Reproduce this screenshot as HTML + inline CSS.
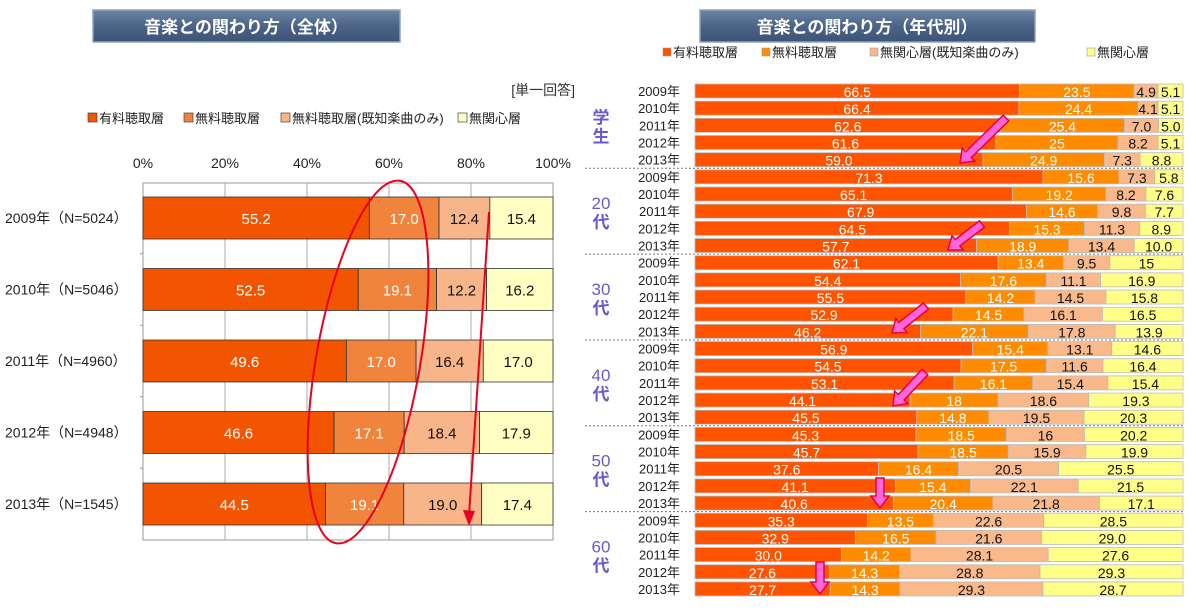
<!DOCTYPE html>
<html><head><meta charset="utf-8">
<style>
body{margin:0;background:#fff;}
svg{display:block;font-family:"Liberation Sans","Noto Sans CJK JP",sans-serif;}
</style></head>
<body>
<svg id="root" width="1196" height="614" viewBox="0 0 1196 614" xmlns="http://www.w3.org/2000/svg">
<defs>
<linearGradient id="tg" x1="0" y1="0" x2="0" y2="1">
<stop offset="0" stop-color="#6d86a6"/><stop offset="0.5" stop-color="#4b6488"/><stop offset="1" stop-color="#3c5478"/>
</linearGradient>
</defs>
<g>
<rect x="93" y="10" width="307" height="32" fill="url(#tg)" stroke="#8fa3bd" stroke-width="1.5"/>
<text x="246" y="33" text-anchor="middle" font-size="17" fill="#fff" font-weight="bold">音楽との関わり方（全体）</text>
</g>
<g>
<rect x="700" y="10" width="335" height="32" fill="url(#tg)" stroke="#8fa3bd" stroke-width="1.5"/>
<text x="867" y="33" text-anchor="middle" font-size="17" fill="#fff" font-weight="bold">音楽との関わり方（年代別）</text>
</g>
<text x="575" y="95" text-anchor="end" font-size="14" fill="#333">[単一回答]</text>
<g id="left"></g>
<g id="right"></g>
<g id="ann"></g>
</svg>
<script>
const NS="http://www.w3.org/2000/svg";
function mk(p,t,a){const e=document.createElementNS(NS,t);for(const k in a)e.setAttribute(k,a[k]);p.appendChild(e);return e;}

// ---- Left chart data ----
const leftCats=["2009年（N=5024）","2010年（N=5046）","2011年（N=4960）","2012年（N=4948）","2013年（N=1545）"];
const leftPaid=[55.2,52.5,49.6,46.6,44.5];
const leftFree=[17.0,19.1,17.0,17.1,19.1];
const leftFreeKnown=[12.4,12.2,16.4,18.4,19.0];
const leftNone=[15.4,16.2,17.0,17.9,17.4];
const leftTicks=["0%","20%","40%","60%","80%","100%"];
const leftSeriesNames=["有料聴取層","無料聴取層","無料聴取層(既知楽曲のみ)","無関心層"];

// ---- Right chart data ----
const groups=["学生","20代","30代","40代","50代","60代"];
const years=["2009年","2010年","2011年","2012年","2013年"];
const rPaid=["66.5","66.4","62.6","61.6","59.0","71.3","65.1","67.9","64.5","57.7","62.1","54.4","55.5","52.9","46.2","56.9","54.5","53.1","44.1","45.5","45.3","45.7","37.6","41.1","40.6","35.3","32.9","30.0","27.6","27.7"];
const rFree=["23.5","24.4","25.4","25","24.9","15.6","19.2","14.6","15.3","18.9","13.4","17.6","14.2","14.5","22.1","15.4","17.5","16.1","18","14.8","18.5","18.5","16.4","15.4","20.4","13.5","16.5","14.2","14.3","14.3"];
const rKnown=["4.9","4.1","7.0","8.2","7.3","7.3","8.2","9.8","11.3","13.4","9.5","11.1","14.5","16.1","17.8","13.1","11.6","15.4","18.6","19.5","16","15.9","20.5","22.1","21.8","22.6","21.6","28.1","28.8","29.3"];
const rNone=["5.1","5.1","5.0","5.1","8.8","5.8","7.6","7.7","8.9","10.0","15","16.9","15.8","16.5","13.9","14.6","16.4","15.4","19.3","20.3","20.2","19.9","25.5","21.5","17.1","28.5","29.0","27.6","29.3","28.7"];
const rightSeriesNames=["有料聴取層","無料聴取層","無関心層(既知楽曲のみ)","無関心層"];

// ---- Left chart ----
const L=document.getElementById('left');
const lx0=143,lx1=553,ly0=183,ly1=540;
const lx=v=>lx0+(lx1-lx0)*v/100;
const lrowY=i=>218+i*71.5;
const lCols=["#f25400","#f0843c","#f8b58a","#ffffc4"];
const lText=["#fff","#fff","#111","#111"];
mk(L,'rect',{x:lx0,y:ly0,width:lx1-lx0,height:ly1-ly0,fill:"#fff",stroke:"#999"});
leftTicks.forEach((t,i)=>{
 const x=lx(i*20);
 if(i>0&&i<5){const g=mk(L,'line',{x1:x,x2:x,y1:ly0,y2:ly1,stroke:"#aaa"});}
 const tx=mk(L,'text',{x:x,y:168,"text-anchor":"middle","font-size":14,fill:"#222"});tx.textContent=t;
 
 
});
// legend
let lgx=88;
leftSeriesNames.forEach((n,i)=>{
 const g=mk(L,'g',{});
 
 
 mk(g,'rect',{x:lgx,y:113,width:9,height:9,fill:lCols[i],stroke:"#444","stroke-width":0.7});
 const t=mk(g,'text',{x:lgx+11,y:123,"font-size":13,fill:"#222"});t.textContent=n;
 lgx+= [96,97,177,0][i];
});
leftCats.forEach((c,i)=>{
 const cy=lrowY(i);
 const t=mk(L,'text',{x:5,y:cy+5,"font-size":14,fill:"#222"});t.textContent=c;
 
 
 if(i<4){mk(L,'line',{x1:lx0-3,x2:lx0,y1:cy+35.75,y2:cy+35.75,stroke:"#999"});}
 const vals=[leftPaid[i],leftFree[i],leftFreeKnown[i],leftNone[i]];
 const tot=vals.reduce((a,b)=>a+b,0);
 let acc=0;
 vals.forEach((v,s)=>{
  const x=lx(acc/tot*100),w=lx((acc+v)/tot*100)-x;
  const r=mk(L,'rect',{x:x,y:cy-21,width:w,height:42,fill:lCols[s],stroke:"#333","stroke-width":0.8});
  
  
  const t2=mk(L,'text',{x:x+w/2,y:cy+6,"text-anchor":"middle","font-size":15,fill:lText[s]});t2.textContent=v.toFixed(1);
  acc+=v;
 });
});

// ---- Right chart ----
const R=document.getElementById('right');
const rx0=695,rx1=1183;
const rx=v=>rx0+(rx1-rx0)*v/100;
const rrowY=i=>91+i*17.17;
const rCols=["#ff5300","#ff8c00","#f9b98a","#ffff88"];
const rText=["#fff","#fff","#111","#111"];
let rgx=663;
rightSeriesNames.forEach((n,i)=>{
 const g=mk(R,'g',{});
 
 
 mk(g,'rect',{x:rgx,y:48,width:8,height:8,fill:rCols[i],stroke:"#999","stroke-width":0.6});
 const t=mk(g,'text',{x:rgx+10,y:57,"font-size":13,fill:"#222"});t.textContent=n;
 rgx+=[99,108,217,0][i];
});
groups.forEach((g,gi)=>{
 const cy=rrowY(gi*5+2);
 const lab=g==="学生"?["学","生"]:[g.slice(0,2),"代"];
 const t1=mk(R,'text',{x:601,y:cy-2,"text-anchor":"middle","font-size":17,fill:"#6a5acd","font-weight":gi===0?"bold":"normal"});t1.textContent=lab[0];
 
 
 const t2=mk(R,'text',{x:601,y:cy+17,"text-anchor":"middle","font-size":17,fill:"#6a5acd","font-weight":"bold"});t2.textContent=lab[1];
 if(gi>0){const y=rrowY(gi*5)-8.6;mk(R,'line',{x1:585,x2:1183,y1:y,y2:y,stroke:"#777","stroke-dasharray":"2,2"});}
});
rPaid.forEach((_,i)=>{
 const cy=rrowY(i);
 const t=mk(R,'text',{x:680,y:cy+5,"text-anchor":"end","font-size":13,fill:"#222"});t.textContent=years[i%5];
 
 
 const strs=[rPaid[i],rFree[i],rKnown[i],rNone[i]];
 const vals=strs.map(Number);
 const tot=vals.reduce((a,b)=>a+b,0);
 let acc=0;
 vals.forEach((v,s)=>{
  const x=rx(acc/tot*100),w=rx((acc+v)/tot*100)-x;
  const r=mk(R,'rect',{x:x,y:cy-7,width:w,height:14,fill:rCols[s],stroke:"#bbb","stroke-width":0.8});
  
  
  const tx=mk(R,'text',{x:x+w/2,y:cy+6,"text-anchor":"middle","font-size":14,fill:rText[s]});tx.textContent=strs[s];
  acc+=v;
 });
});

// ---- Annotations ----
const A=document.getElementById('ann');
const el=mk(A,'ellipse',{cx:368,cy:362,rx:52,ry:184,fill:"none",stroke:"#e8001c","stroke-width":2,transform:"rotate(10 368 362)"});


mk(A,'line',{x1:489,y1:212,x2:469,y2:515,stroke:"#e8001c","stroke-width":2});
mk(A,'polygon',{points:"463,510 469,526 475,511",fill:"#e8001c"});
function parrow(x1,y1,x2,y2){
 const dx=x2-x1,dy=y2-y1,L2=Math.hypot(dx,dy),ux=dx/L2,uy=dy/L2,px=-uy,py=ux;
 const bx=x2-ux*12,by=y2-uy*12;
 const pts=[[x1+px*4,y1+py*4],[bx+px*4,by+py*4],[bx+px*9,by+py*9],[x2,y2],[bx-px*9,by-py*9],[bx-px*4,by-py*4],[x1-px*4,y1-py*4]];
 const p=mk(A,'polygon',{points:pts.map(q=>q.join(',')).join(' '),fill:"#ff66dd",stroke:"#e8003c","stroke-width":1.5});
 
 
}
parrow(1006,118,960,163);
parrow(982,224,948,250);
parrow(926,306,892,333);
parrow(925,372,893,406);
parrow(880,478,880,508);
parrow(820,562,820,594);
</script>
</body></html>
